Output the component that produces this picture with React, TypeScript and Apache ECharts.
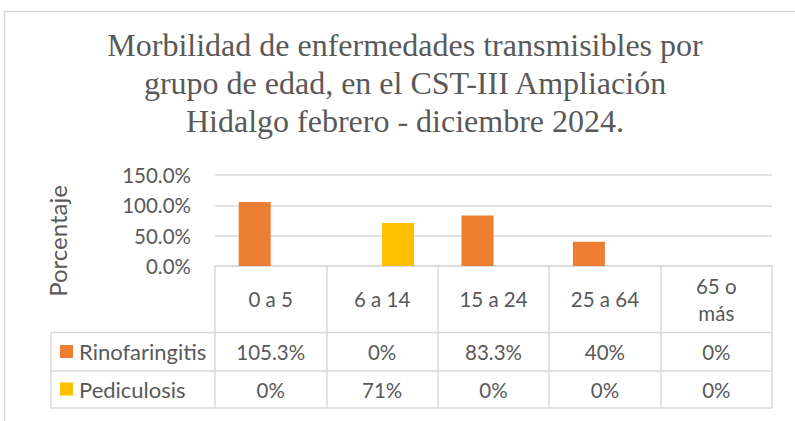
import React, { useEffect, useRef } from 'react';
import * as echarts from 'echarts';

const titleLines = [
  'Morbilidad de enfermedades transmisibles por',
  'grupo de edad, en el CST-III Ampliación',
  'Hidalgo febrero - diciembre 2024.',
];
const categories = ['0 a 5', '6 a 14', '15 a 24', '25 a 64', '65 o\nmás'];
const seriesNames = ['Rinofaringitis', 'Pediculosis'];
const rinofaringitis = [105.3, 0, 83.3, 40, 0];
const pediculosis = [0, 71, 0, 0, 0];
const yMin = 0;
const yMax = 150;
const yInterval = 50;
const yAxisName = 'Porcentaje';

const TEXT = '#595959';
const LINE = '#d9d9d9';
const SANS = 'Lato, "Open Sans", sans-serif';
const FS = 20.5;
const LEG_FS = 22;

export default function App() {
  const ref = useRef<HTMLDivElement>(null);
  useEffect(() => {
    if (!ref.current) return;
    const chart = echarts.init(ref.current, undefined, { renderer: 'svg' });
    const fmt = (v: number) => `${v}%`;
    const tableAxis = (values: number[], margin: number) => ({
      type: 'category',
      gridIndex: 0,
      position: 'bottom',
      data: categories,
      axisLine: { show: false },
      axisTick: { show: false },
      splitLine: { show: false },
      axisLabel: {
        interval: 0,
        margin,
        verticalAlign: 'middle',
        color: TEXT,
        fontSize: FS,
        fontFamily: SANS,
        formatter: (_v: string, i: number) => fmt(values[i]),
      },
    });
    const legendRow = (name: string, top: number) => ({
      data: [name],
      left: 60,
      top,
      padding: 0,
      icon: 'rect',
      itemWidth: 13,
      itemHeight: 13,
      itemGap: 5,
      selectedMode: false,
      textStyle: { color: TEXT, fontSize: LEG_FS, fontFamily: SANS, padding: [0, 0, 0, 1] },
    });
    chart.setOption({
      animation: false,
      backgroundColor: '#ffffff',
      grid: { left: 215, right: 23, top: 175, bottom: 155, containLabel: false },
      xAxis: [
        {
          type: 'category',
          position: 'bottom',
          data: categories,
          axisLine: { show: true, lineStyle: { color: LINE, width: 1.5 } },
          axisTick: { show: true, length: 142, interval: 0, lineStyle: { color: LINE, width: 1.5 } },
          axisLabel: {
            interval: 0,
            margin: 33,
            verticalAlign: 'middle',
            lineHeight: 27,
            color: TEXT,
            fontSize: FS,
            fontFamily: SANS,
          },
        },
        tableAxis(rinofaringitis, 86),
        tableAxis(pediculosis, 123.5),
      ],
      yAxis: {
        type: 'value',
        min: yMin,
        max: yMax,
        interval: yInterval,
        axisLine: { show: false },
        axisTick: { show: false },
        splitLine: { lineStyle: { color: LINE, width: 1.5 } },
        axisLabel: {
          margin: 24,
          color: TEXT,
          fontSize: FS,
          fontFamily: SANS,
          formatter: (v: number) => `${v.toFixed(1)}%`,
        },
      },
      legend: [legendRow(seriesNames[0], 340.5), legendRow(seriesNames[1], 378)],
      series: [
        {
          name: seriesNames[0],
          type: 'bar',
          data: rinofaringitis,
          barWidth: 32,
          barGap: '0%',
          itemStyle: { color: '#ED7D31' },
        },
        {
          name: seriesNames[1],
          type: 'bar',
          data: pediculosis,
          barWidth: 32,
          barGap: '0%',
          itemStyle: { color: '#FFC000' },
        },
      ],
      graphic: [
        {
          type: 'rect',
          silent: true,
          shape: { x: 4.5, y: 11.5, width: 900, height: 500 },
          style: { fill: 'none', stroke: LINE, lineWidth: 1.5 },
        },
        {
          type: 'text',
          x: 405,
          y: 26,
          style: {
            text: titleLines.join('\n'),
            align: 'center',
            verticalAlign: 'top',
            fill: TEXT,
            fontSize: 32,
            lineHeight: 38,
            fontFamily: '"Liberation Serif", "Times New Roman", serif',
          },
        },
        {
          type: 'text',
          x: 57,
          y: 241,
          rotation: Math.PI / 2,
          style: {
            text: yAxisName,
            align: 'center',
            verticalAlign: 'middle',
            fill: TEXT,
            fontSize: 24,
            fontFamily: SANS,
          },
        },
        { type: 'line', silent: true, shape: { x1: 51, y1: 332.5, x2: 772, y2: 332.5 }, style: { stroke: LINE, lineWidth: 1.5 } },
        { type: 'line', silent: true, shape: { x1: 51, y1: 371, x2: 772, y2: 371 }, style: { stroke: LINE, lineWidth: 1.5 } },
        { type: 'line', silent: true, shape: { x1: 51, y1: 408, x2: 772, y2: 408 }, style: { stroke: LINE, lineWidth: 1.5 } },
        { type: 'line', silent: true, shape: { x1: 51, y1: 332, x2: 51, y2: 408.5 }, style: { stroke: LINE, lineWidth: 1.5 } },
      ],
    });
    return () => chart.dispose();
  }, []);
  return (
    <div
      ref={ref}
      style={{ position: 'fixed', left: 0, top: 0, width: 795, height: 421, background: '#fff' }}
    />
  );
}
